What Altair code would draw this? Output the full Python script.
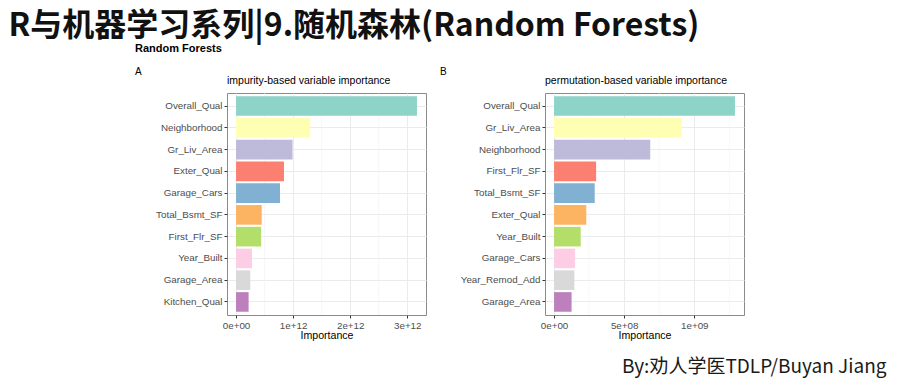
import altair as alt
import pandas as pd

# ---- data ----
vars_A = ["Overall_Qual", "Neighborhood", "Gr_Liv_Area", "Exter_Qual", "Garage_Cars",
          "Total_Bsmt_SF", "First_Flr_SF", "Year_Built", "Garage_Area", "Kitchen_Qual"]
imp_A = [3.17e12, 1.30e12, 0.99e12, 0.84e12, 0.77e12, 0.45e12, 0.44e12, 0.28e12, 0.25e12, 0.22e12]

vars_B = ["Overall_Qual", "Gr_Liv_Area", "Neighborhood", "First_Flr_SF", "Total_Bsmt_SF",
          "Exter_Qual", "Year_Built", "Garage_Cars", "Year_Remod_Add", "Garage_Area"]
imp_B = [1.29e9, 0.91e9, 0.686e9, 0.30e9, 0.29e9, 0.23e9, 0.19e9, 0.15e9, 0.145e9, 0.125e9]

ticks_A = [0, 1e12, 2e12, 3e12]
tick_labels_A = ["0e+00", "1e+12", "2e+12", "3e+12"]
minor_A = [0.5e12, 1.5e12, 2.5e12]

ticks_B = [0, 5e8, 1e9]
tick_labels_B = ["0e+00", "5e+08", "1e+09"]
minor_B = [2.5e8, 7.5e8, 1.25e9]

set3 = ["#8DD3C7", "#FFFFB3", "#BEBADA", "#FB8072", "#80B1D3",
        "#FDB462", "#B3DE69", "#FCCDE5", "#D9D9D9", "#BC80BD"]

main_title = "R与机器学习系列|9.随机森林(Random Forests)"
sup_title = "Random Forests"
title_A = "impurity-based variable importance"
title_B = "permutation-based variable importance"
credit = "By:劝人学医TDLP/Buyan Jiang"

W, H = 199, 222
LABEL_FONT = "Liberation Sans"


def label_expr(vals, labs):
    expr = "''"
    for v, l in reversed(list(zip(vals, labs))):
        expr = f"(abs(datum.value - ({v!r})) < 1 ? '{l}' : {expr})"
    return expr


def text_layer(txt, x, y, size, weight="normal", font=LABEL_FONT, color="#000000", opacity=1.0):
    return alt.Chart(pd.DataFrame({"t": [txt]})).mark_text(
        align="left", baseline="alphabetic", fontSize=size, fontWeight=weight,
        font=font, color=color, opacity=opacity
    ).encode(text="t:N", x=alt.value(x), y=alt.value(y))


def panel(vars_, imp, ticks, tlabels, minor, ptitle, letter, letter_x, extra):
    mx = max(imp)
    xscale = alt.Scale(domain=[-0.05 * mx, 1.05 * mx], nice=False, zero=False)
    df = pd.DataFrame({"var": vars_, "imp": imp})
    minor_df = pd.DataFrame({"imp": minor})

    minor_rules = alt.Chart(minor_df).mark_rule(color="#F2F2F2", strokeWidth=0.6).encode(
        x=alt.X("imp:Q", scale=xscale)
    )

    bars = alt.Chart(df).mark_bar().encode(
        x=alt.X("imp:Q", scale=xscale, title="Importance",
                axis=alt.Axis(values=ticks, labelExpr=label_expr(ticks, tlabels),
                              grid=True, gridColor="#EBEBEB", gridWidth=1,
                              domain=False, tickColor="#333333", tickSize=3,
                              labelColor="#4D4D4D", labelFont=LABEL_FONT, labelFontSize=9.8,
                              labelPadding=2, titleFont=LABEL_FONT, titleFontSize=10.6,
                              titleFontWeight="normal", titleColor="#000000", titlePadding=1)),
        x2=alt.datum(0),
        y=alt.Y("var:N", sort=vars_, title=None,
                scale=alt.Scale(paddingInner=0.1, paddingOuter=0.15),
                axis=alt.Axis(grid=True, gridColor="#EBEBEB", gridWidth=1, bandPosition=0.5,
                              domain=False, tickColor="#333333", tickSize=3,
                              labelColor="#4D4D4D", labelFont=LABEL_FONT, labelFontSize=9.8,
                              labelPadding=2)),
        color=alt.Color("var:N", scale=alt.Scale(domain=vars_, range=set3), legend=None),
    )

    layers = [minor_rules, bars,
              text_layer(ptitle, 0, -9, 10.5),
              text_layer(letter, letter_x, -18, 10)]
    layers += extra
    return alt.layer(*layers).properties(width=W, height=H)


panel_A = panel(vars_A, imp_A, ticks_A, tick_labels_A, minor_A, title_A, "A", -92,
                [text_layer(sup_title, -92, -41, 11, weight="bold")])
panel_B = panel(vars_B, imp_B, ticks_B, tick_labels_B, minor_B, title_B, "B", -105,
                [text_layer(sup_title, 20, -41, 11, weight="bold", opacity=0),
                 text_layer(credit, 77, 280, 19, font="Noto Sans CJK SC", color="#1a1a1a")])

chart = alt.hconcat(panel_A, panel_B, spacing=12).resolve_scale(
    color="independent"
).properties(
    title=alt.TitleParams(main_title, anchor="start", dx=-126, offset=-0.5,
                          font="Noto Sans CJK SC", fontSize=32, fontWeight="bold",
                          color="#111111"),
    padding={"top": 2, "left": 0, "right": 0, "bottom": 0},
    background="white",
).configure_view(stroke="#8A8A8A", strokeWidth=1)

chart.save("out.html", embed_options={"renderer": "svg", "actions": False})
